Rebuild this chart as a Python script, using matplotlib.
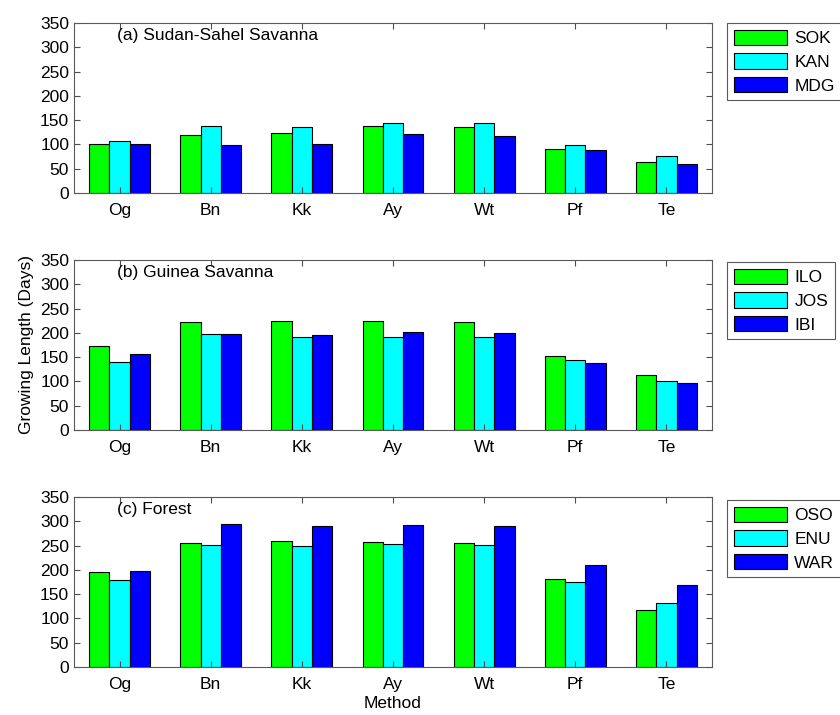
import numpy as np
import matplotlib as mpl
mpl.use('Agg')
import matplotlib.pyplot as plt

plt.rcParams['font.family'] = ['Liberation Sans', 'DejaVu Sans']

methods = ['Og', 'Bn', 'Kk', 'Ay', 'Wt', 'Pf', 'Te']

# (a) Sudan-Sahel Savanna
sok = [100, 120, 124, 137, 135, 91, 64]
kan = [108, 137, 135, 145, 144, 98, 77]
mdg = [100, 99, 100, 122, 117, 89, 59]

# (b) Guinea Savanna
ilo = [172, 223, 225, 225, 223, 153, 113]
jos = [140, 197, 192, 192, 192, 144, 100]
ibi = [157, 197, 195, 202, 200, 137, 97]

# (c) Forest
oso = [195, 255, 259, 257, 255, 182, 118]
enu = [180, 251, 249, 253, 251, 176, 131]
war = [197, 295, 290, 292, 290, 211, 169]

panels = [
    ('(a) Sudan-Sahel Savanna', [sok, kan, mdg], ['SOK', 'KAN', 'MDG']),
    ('(b) Guinea Savanna', [ilo, jos, ibi], ['ILO', 'JOS', 'IBI']),
    ('(c) Forest', [oso, enu, war], ['OSO', 'ENU', 'WAR']),
]
colours = ['#00ff00', '#00ffff', '#0000ff']

W, H = 840, 715
fig = plt.figure(figsize=(W / 100, H / 100), dpi=100)

# axes boxes in pixels: (top, bottom)
boxes = [(23, 193), (260, 430), (497, 667)]
legend_tops = [23, 262, 500]
left, right = 74, 712

x = np.arange(1, len(methods) + 1)
bw = 2.0 / 9.0

for k, ((title, series, names), (top, bot)) in enumerate(zip(panels, boxes)):
    ax = fig.add_axes([left / W, 1 - bot / H, (right - left) / W, (bot - top) / H])
    handles = []
    for j, vals in enumerate(series):
        h = ax.bar(x + (j - 1) * bw, vals, bw, color=colours[j],
                   edgecolor='black', linewidth=0.8, label=names[j])
        handles.append(h)
    ax.set_xlim(0.5, 7.5)
    ax.set_ylim(0, 350)
    ax.set_yticks(np.arange(0, 351, 50))
    ax.set_xticks(x)
    ax.set_xticklabels(methods)
    ax.tick_params(direction='in', length=4.5, width=0.8, color='0.3',
                   top=True, right=True, labelsize=12.5)
    ax.tick_params(axis='x', pad=7)
    for s in ax.spines.values():
        s.set_color('0.35')
        s.set_linewidth(0.8)
    ax.text(0.97, 340, title, fontsize=12.5, ha='left', va='top')
    leg = ax.legend(handles=handles, loc='upper left',
                    bbox_to_anchor=(727 / W, 1 - legend_tops[k] / H),
                    bbox_transform=fig.transFigure, borderaxespad=0,
                    fontsize=12.5, handlelength=3.1, handleheight=1.0,
                    handletextpad=0.4, labelspacing=0.4, borderpad=0.38,
                    fancybox=False, framealpha=1)
    leg.get_frame().set_edgecolor('0.35')
    leg.get_frame().set_linewidth(0.8)
    if k == 1:
        ax.set_ylabel('Growing Length (Days)', fontsize=12.5, labelpad=4)
    if k == 2:
        ax.set_xlabel('Method', fontsize=12.5, labelpad=3)

plt.savefig('out.png', dpi=100)
